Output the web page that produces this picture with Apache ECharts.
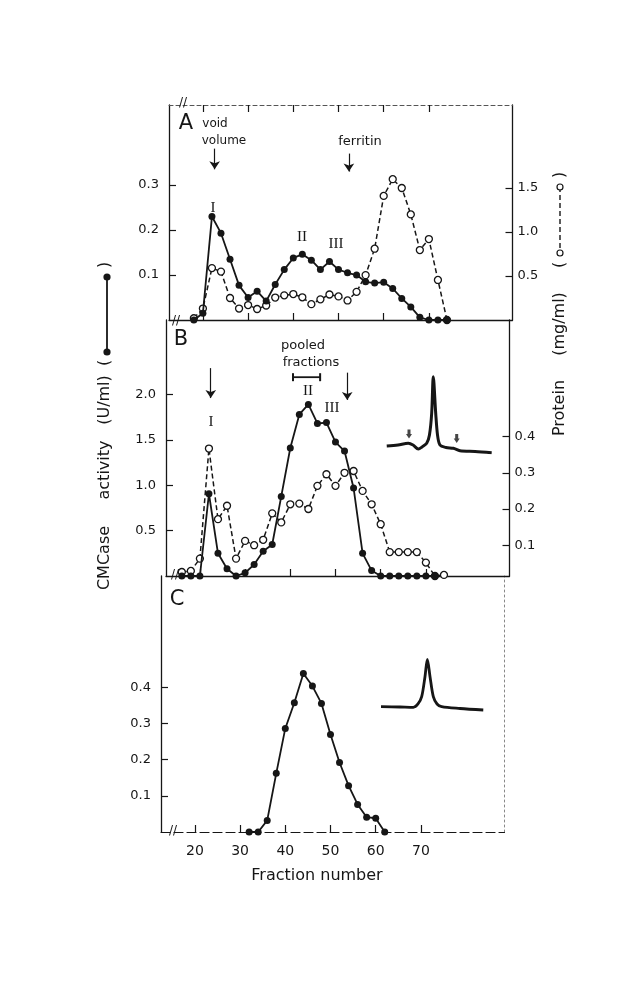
<!DOCTYPE html>
<html>
<head>
<meta charset="utf-8">
<title>CMCase elution profiles</title>
<script src="https://cdn.jsdelivr.net/npm/echarts@6.0.0/dist/echarts.min.js"></script>
<style>
  html, body { margin: 0; padding: 0; background: #fff; }
  #chart { width: 630px; height: 1000px; }
</style>
</head>
<body>
<div id="chart"></div>
<script>
// Fraction numbers and values
const fracA = [18, 20, 22, 24, 26, 28, 30, 32, 34, 36, 38, 40, 42, 44, 46, 48, 50, 52, 54, 56, 58, 60, 62, 64, 66, 68, 70, 72, 74];
const activityA = [0, 0.015, 0.23, 0.193, 0.135, 0.077, 0.05, 0.064, 0.042, 0.079, 0.112, 0.138, 0.146, 0.133, 0.112, 0.13, 0.112, 0.105, 0.1, 0.085, 0.082, 0.084, 0.07, 0.048, 0.029, 0.006, 0, 0, 0];
const proteinA = [0.02, 0.13, 0.59, 0.55, 0.25, 0.13, 0.17, 0.125, 0.165, 0.255, 0.28, 0.295, 0.258, 0.18, 0.235, 0.29, 0.268, 0.222, 0.32, 0.51, 0.81, 1.41, 1.6, 1.5, 1.2, 0.795, 0.92, 0.455, 0];

const fracBact = [16, 18, 20, 22, 24, 26, 28, 30, 32, 34, 36, 38, 40, 42, 44, 46, 48, 50, 52, 54, 56, 58, 60, 62, 64, 66, 68, 70, 72];
const activityB = [0, 0, 0, 0.906, 0.25, 0.08, 0, 0.035, 0.127, 0.273, 0.347, 0.877, 1.41, 1.78, 1.89, 1.68, 1.69, 1.475, 1.376, 0.97, 0.25, 0.06, 0, 0, 0, 0, 0, 0, 0];
const fracBprot = [16, 18, 20, 22, 24, 26, 28, 30, 32, 34, 36, 38, 40, 42, 44, 46, 48, 50, 52, 54, 56, 58, 60, 62, 64, 66, 68, 70, 72, 74];
const proteinB = [0.026, 0.029, 0.063, 0.367, 0.172, 0.209, 0.063, 0.112, 0.1, 0.115, 0.188, 0.163, 0.213, 0.215, 0.2, 0.264, 0.296, 0.264, 0.3, 0.305, 0.25, 0.213, 0.158, 0.081, 0.081, 0.081, 0.081, 0.052, 0.015, 0.018];

const fracC = [32, 34, 36, 38, 40, 42, 44, 46, 48, 50, 52, 54, 56, 58, 60, 62];
const activityC = [0, 0, 0.032, 0.162, 0.286, 0.357, 0.438, 0.403, 0.355, 0.269, 0.192, 0.128, 0.076, 0.041, 0.038, 0];

// pooled fractions bar in B
const pooledRange = [40.6, 46.6];
const pooledLevel = 2.19;

// densitometer insets (arbitrary units, 0-100)
const insetBx = [0.7, 11.3, 21, 25.5, 30.5, 34, 38.4, 41, 43.1, 44.6, 46.9, 48.6, 50.9, 56.6, 63.5, 69.8, 84, 99.7];
const insetBy = [9.1, 10.4, 12.6, 10.4, 5.2, 7.8, 12.6, 23.4, 51.6, 99, 51.6, 23.4, 10.4, 7.1, 6.1, 3, 2, 0.4];
const insetBarrowsX = [21.7, 66.7];
const insetBarrowsY = [24.7, 18.8];
const insetCx = [0, 18.4, 31.4, 35.9, 39.5, 42.7, 45, 47.6, 50.8, 54.4, 58.9, 76.7, 99.3];
const insetCy = [8.3, 7.7, 7.1, 13.5, 27.5, 66, 99.4, 66, 27.5, 13.5, 8.3, 4.8, 1.9];

// tick labels
const xTicks = [20, 30, 40, 50, 60, 70];
const ticksActA = [0.1, 0.2, 0.3];
const ticksProtA = [0.5, 1.0, 1.5];
const ticksActB = [0.5, 1.0, 1.5, 2.0];
const ticksProtB = [0.1, 0.2, 0.3, 0.4];
const ticksActC = [0.1, 0.2, 0.3, 0.4];

const INK = '#161616';
const FONT = '"DejaVu Sans", sans-serif';

const zip = (xs, ys) => xs.map((x, i) => [x, ys[i]]);

function xAxisFor(grid, extra) {
    return Object.assign({
        type: 'value', gridIndex: grid, min: 12.5, max: 88.5,
        axisLine: { show: true, onZero: false, lineStyle: { color: INK, width: 1.3 } },
        axisTick: { show: true, inside: true, length: 7, customValues: xTicks, lineStyle: { color: INK, width: 1.2 } },
        axisLabel: { show: false },
        splitLine: { show: false }
    }, extra);
}

function yAxisFor(grid, pos, min, max, ticks) {
    return {
        type: 'value', gridIndex: grid, position: pos, min: min, max: max,
        axisLine: { show: true, onZero: false, lineStyle: { color: INK, width: 1.3 } },
        axisTick: { show: true, inside: true, length: 7, customValues: ticks, lineStyle: { color: INK, width: 1.2 } },
        axisLabel: {
            show: true, customValues: ticks, color: INK, fontFamily: FONT, fontSize: 13,
            margin: pos === 'left' ? 10 : 5,
            formatter: v => v.toFixed(1)
        },
        splitLine: { show: false }
    };
}

function hiddenAxis(grid) {
    return { type: 'value', gridIndex: grid, min: 0, max: 100, show: false };
}

const arrowLine = (pairs) => ({
    silent: true,
    symbol: ['none', 'arrow'],
    symbolSize: 8,
    label: { show: false },
    lineStyle: { type: 'solid', color: INK, width: 1.2 },
    data: pairs.map(p => [{ coord: p[0] }, { coord: p[1] }])
});

const activityStyle = {
    type: 'line', symbol: 'circle', symbolSize: 7,
    itemStyle: { color: INK },
    lineStyle: { color: INK, width: 1.8 },
    z: 3
};
const proteinStyle = {
    type: 'line', symbol: 'circle', symbolSize: 7,
    itemStyle: { color: '#fff', borderColor: INK, borderWidth: 1.3 },
    lineStyle: { color: INK, width: 1.5, type: [5, 3] },
    z: 2
};

function txt(text, x, y, size, opts) {
    return Object.assign({
        type: 'text', x: x, y: y, z: 20,
        style: { text: text, fill: INK, font: size + 'px ' + FONT, align: 'center', verticalAlign: 'middle' }
    }, opts || {});
}
function serif(text, x, y) {
    return txt(text, x, y, 15, { style: { text: text, fill: INK, font: '15px "Liberation Serif", serif', align: 'center', verticalAlign: 'middle' } });
}
const ROT = Math.PI / 2;

const chart = echarts.init(document.getElementById('chart'), null, { renderer: 'canvas' });

chart.setOption({
    animation: false,
    backgroundColor: '#fff',
    grid: [
        { left: 169, top: 105, width: 343.5, height: 215 },
        { left: 166, top: 320, width: 343.5, height: 256 },
        { left: 161, top: 576, width: 343.5, height: 256 },
        { left: 386, top: 376, width: 106, height: 77 },
        { left: 381, top: 659, width: 103, height: 52 }
    ],
    xAxis: [
        xAxisFor(0),
        xAxisFor(1),
        xAxisFor(2, {
            axisLine: { show: true, onZero: false, lineStyle: { color: INK, width: 1.2, type: [9, 4] } },
            axisLabel: { show: true, customValues: xTicks, color: INK, fontFamily: FONT, fontSize: 14, margin: 12 }
        }),
        xAxisFor(0, {
            position: 'top',
            axisLine: { show: true, onZero: false, lineStyle: { color: '#555', width: 1.1, type: [4, 3] } }
        }),
        hiddenAxis(3),
        hiddenAxis(4)
    ],
    yAxis: [
        yAxisFor(0, 'left', 0, 0.478, ticksActA),
        yAxisFor(0, 'right', 0, 2.443, ticksProtA),
        yAxisFor(1, 'left', 0, 2.82, ticksActB),
        yAxisFor(1, 'right', 0.015, 0.722, ticksProtB),
        yAxisFor(2, 'left', 0, 0.707, ticksActC),
        {
            type: 'value', gridIndex: 2, position: 'right', min: 0, max: 1,
            axisLine: { show: true, onZero: false, lineStyle: { color: '#888', width: 1, type: [2, 3] } },
            axisTick: { show: false }, axisLabel: { show: false }, splitLine: { show: false }
        },
        hiddenAxis(3),
        hiddenAxis(4)
    ],
    series: [
        Object.assign({}, proteinStyle, { name: 'Protein A', xAxisIndex: 0, yAxisIndex: 1, data: zip(fracA, proteinA) }),
        Object.assign({}, activityStyle, {
            name: 'CMCase A', xAxisIndex: 0, yAxisIndex: 0, data: zip(fracA, activityA),
            markLine: arrowLine([[[22.6, 0.381], [22.6, 0.335]], [[52.3, 0.37], [52.3, 0.33]]])
        }),
        Object.assign({}, proteinStyle, { name: 'Protein B', xAxisIndex: 1, yAxisIndex: 3, data: zip(fracBprot, proteinB) }),
        Object.assign({}, activityStyle, {
            name: 'CMCase B', xAxisIndex: 1, yAxisIndex: 2, data: zip(fracBact, activityB),
            markLine: arrowLine([[[22.4, 2.29], [22.4, 1.96]], [[52.6, 2.24], [52.6, 1.94]]])
        }),
        {
            name: 'pooled fractions', type: 'line', xAxisIndex: 1, yAxisIndex: 2,
            data: pooledRange.map(x => [x, pooledLevel]),
            symbol: 'rect', symbolSize: [2, 8], itemStyle: { color: INK },
            lineStyle: { color: INK, width: 1.8 }
        },
        Object.assign({}, activityStyle, { name: 'CMCase C', xAxisIndex: 2, yAxisIndex: 4, data: zip(fracC, activityC) }),
        {
            name: 'inset B', type: 'line', xAxisIndex: 4, yAxisIndex: 6, data: zip(insetBx, insetBy),
            symbol: 'none', smooth: 0.3, lineStyle: { color: INK, width: 3 }
        },
        {
            name: 'inset B marks', type: 'scatter', xAxisIndex: 4, yAxisIndex: 6, data: zip(insetBarrowsX, insetBarrowsY),
            symbol: 'path://M1.5,0 L4.5,0 L4.5,5 L6,5 L3,10 L0,5 L1.5,5 Z', symbolSize: [6, 9],
            itemStyle: { color: INK }
        },
        {
            name: 'inset C', type: 'line', xAxisIndex: 5, yAxisIndex: 7, data: zip(insetCx, insetCy),
            symbol: 'none', smooth: 0.3, lineStyle: { color: INK, width: 2.8 }
        }
    ],
    graphic: [
        // panel letters
        txt('A', 186, 124, 21),
        txt('B', 181, 340, 21),
        txt('C', 177, 600, 21),
        // annotations
        txt('void', 215, 124, 12),
        txt('volume', 224, 141, 12),
        txt('ferritin', 360, 142, 13),
        txt('pooled', 303, 346, 13),
        txt('fractions', 311, 363, 13),
        serif('I', 213, 208),
        serif('II', 302, 237),
        serif('III', 336, 244),
        serif('I', 211, 422),
        serif('II', 308, 391),
        serif('III', 332, 408),
        // axis breaks
        txt('//', 183, 103, 12),
        txt('//', 176, 321, 12),
        txt('//', 175, 575, 12),
        txt('//', 173, 831, 12),
        // left axis title with key
        txt('CMCase', 105, 558, 16, { rotation: ROT }),
        txt('activity', 105, 470, 16, { rotation: ROT }),
        txt('(U/ml)', 105, 400, 16, { rotation: ROT }),
        txt('(', 105, 363, 16, { rotation: ROT }),
        txt(')', 105, 265, 16, { rotation: ROT }),
        { type: 'line', z: 20, shape: { x1: 107, y1: 277, x2: 107, y2: 352 }, style: { stroke: INK, lineWidth: 1.8 } },
        { type: 'circle', z: 21, shape: { cx: 107, cy: 277, r: 3.6 }, style: { fill: INK } },
        { type: 'circle', z: 21, shape: { cx: 107, cy: 352, r: 3.6 }, style: { fill: INK } },
        // right axis title with key
        txt('Protein', 560, 408, 16, { rotation: ROT }),
        txt('(mg/ml)', 560, 324, 16, { rotation: ROT }),
        txt('(', 560, 265, 16, { rotation: ROT }),
        txt(')', 560, 175, 16, { rotation: ROT }),
        { type: 'line', z: 20, shape: { x1: 560, y1: 187, x2: 560, y2: 253 }, style: { stroke: INK, lineWidth: 1.4, lineDash: [5, 3] } },
        { type: 'circle', z: 21, shape: { cx: 560, cy: 187, r: 3 }, style: { fill: '#fff', stroke: INK, lineWidth: 1.2 } },
        { type: 'circle', z: 21, shape: { cx: 560, cy: 253, r: 3 }, style: { fill: '#fff', stroke: INK, lineWidth: 1.2 } },
        // x axis title
        txt('Fraction number', 317, 876, 16)
    ]
});
</script>
</body>
</html>
